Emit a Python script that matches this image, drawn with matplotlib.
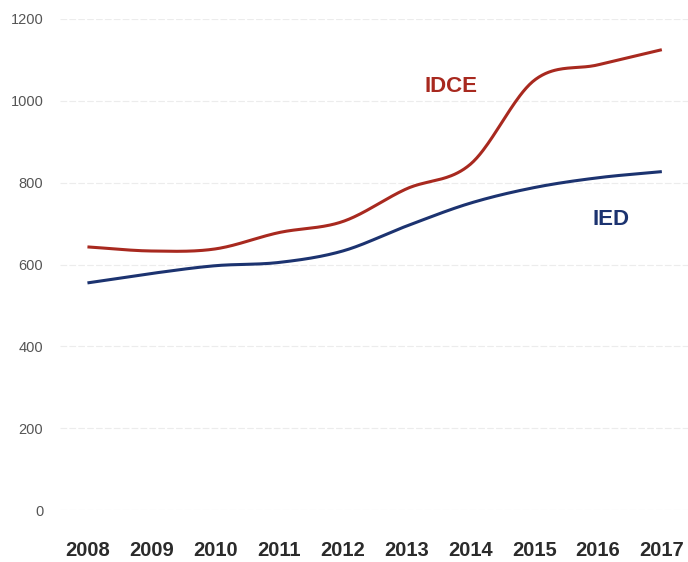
import matplotlib.pyplot as plt
import numpy as np

plt.rcParams['font.family'] = ['Liberation Sans', 'DejaVu Sans']

years = [2008, 2009, 2010, 2011, 2012, 2013, 2014, 2015, 2016, 2017]
idce = [643, 633, 638, 678, 705, 785, 845, 1050, 1088, 1125]
ied = [555, 578, 597, 605, 633, 694, 750, 788, 812, 827]
yticks = [0, 200, 400, 600, 800, 1000, 1200]


def smooth(x, y, n=40):
    # cubic hermite through the points, centred-difference tangents
    x = np.asarray(x, float)
    y = np.asarray(y, float)
    m = np.gradient(y, x)
    xs, ys = [], []
    for i in range(len(x) - 1):
        h = x[i + 1] - x[i]
        t = np.linspace(0, 1, n, endpoint=False)
        h00 = 2 * t**3 - 3 * t**2 + 1
        h10 = t**3 - 2 * t**2 + t
        h01 = -2 * t**3 + 3 * t**2
        h11 = t**3 - t**2
        xs.append(x[i] + t * h)
        ys.append(h00 * y[i] + h10 * h * m[i] + h01 * y[i + 1] + h11 * h * m[i + 1])
    xs.append([x[-1]])
    ys.append([y[-1]])
    return np.concatenate(xs), np.concatenate(ys)


fig = plt.figure(figsize=(6.88, 5.62), dpi=100)
W, H = 688, 562
ax = fig.add_axes([60 / W, (H - 510) / H, 1 - 60 / W, (510 - 19) / H])

red = '#a8291f'
blue = '#1c3370'

xs, ys = smooth(years, idce)
ax.plot(xs, ys, color=red, lw=2.2, solid_capstyle='butt')
xs, ys = smooth(years, ied)
ax.plot(xs, ys, color=blue, lw=2.2, solid_capstyle='butt')

ax.set_xlim(2007.57, 2017.41)
ax.set_ylim(0, 1200)
ax.set_yticks(yticks)
ax.set_xticks(years)
ax.set_xticklabels([str(y) for y in years], fontsize=14.5, fontweight='bold', color='#2b2b2b')
ax.tick_params(axis='y', labelsize=10.5, colors='#555555', length=0, pad=12)
ax.tick_params(axis='x', length=0, pad=22)
ax.grid(axis='y', color='#ececec', lw=0.8, ls=(0, (6, 2)))
ax.set_axisbelow(True)
for s in ax.spines.values():
    s.set_visible(False)

ax.text(2013.7, 1035, 'IDCE', color=red, fontsize=16, fontweight='bold', ha='center', va='center')
ax.text(2016.2, 710, 'IED', color=blue, fontsize=16, fontweight='bold', ha='center', va='center')

fig.savefig('out.png', dpi=100)
